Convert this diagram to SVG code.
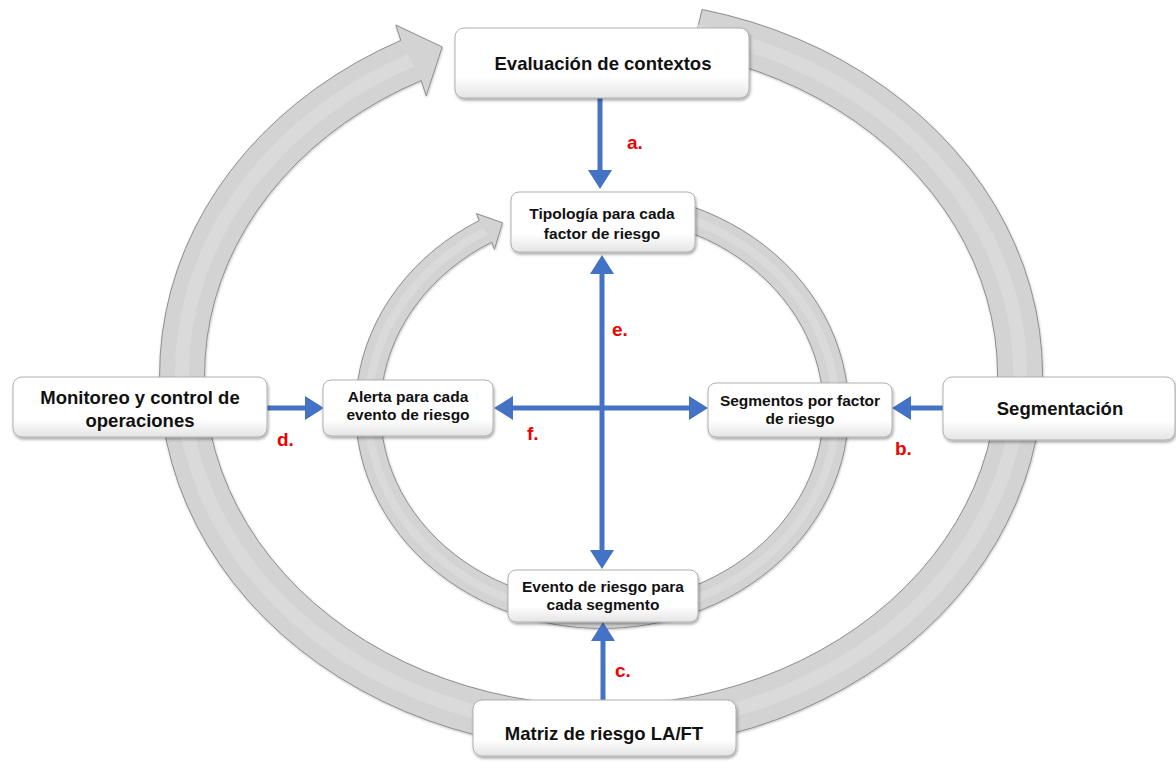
<svg xmlns="http://www.w3.org/2000/svg" width="1176" height="763" viewBox="0 0 1176 763">
<defs>
<linearGradient id="boxg" x1="0" y1="0" x2="0" y2="1">
<stop offset="0" stop-color="#ffffff"/>
<stop offset="0.7" stop-color="#ffffff"/>
<stop offset="1" stop-color="#e4e4e4"/>
</linearGradient>
<filter id="sh" x="-10%" y="-20%" width="120%" height="150%">
<feDropShadow dx="1" dy="2" stdDeviation="1.6" flood-color="#000" flood-opacity="0.35"/>
</filter>
<filter id="rsh" x="-5%" y="-5%" width="110%" height="110%">
<feDropShadow dx="0.5" dy="1" stdDeviation="1" flood-color="#000" flood-opacity="0.25"/>
</filter>
<marker id="ah" markerUnits="userSpaceOnUse" markerWidth="19" markerHeight="24" refX="0" refY="12" orient="auto-start-reverse" viewBox="0 0 19 24">
<path d="M0,0 L19,12 L0,24 Z" fill="#4472C4"/>
</marker>
<style>
.ring{fill:#d3d3d3;stroke:#8e8e8e;stroke-width:1;filter:url(#rsh)}
.hl{fill:none;stroke:#dadada;stroke-width:14}
.hli{fill:none;stroke:#dadada;stroke-width:8}
.box{fill:url(#boxg);stroke:#b0b0b0;stroke-width:1;filter:url(#sh)}
.big{font-family:"Liberation Sans",Arial,sans-serif;font-weight:bold;font-size:18.5px;fill:#111;text-anchor:middle}
.sm{font-family:"Liberation Sans",Arial,sans-serif;font-weight:bold;font-size:15.5px;fill:#111;text-anchor:middle}
.lab{font-family:"Liberation Sans",Arial,sans-serif;font-weight:bold;font-size:19px;fill:#f00000}
.con{stroke:#4472C4;stroke-width:5;fill:none}
</style>
</defs>
<rect width="1176" height="763" fill="#ffffff"/>
<g id="outer-cycle">
<path class="ring" d="M702.1,9.5 A441.5,375.5 0 1 1 400.8,40.4 L395.8,25.0 L442.2,47.0 L426.2,95.8 L421.2,80.5 A396.5,330.5 0 1 0 691.8,53.3 Z"/>
<path class="hl" d="M697,31.4 A419,353 0 1 1 411,60.4"/>
</g>
<g id="inner-cycle">
<path class="ring" d="M665.8,198.9 A246.5,218.5 0 1 1 479.3,220.5 L476.5,213.6 L502.5,222.8 L494.5,249.3 L491.7,242.2 A221.5,193.5 0 1 0 659.3,223.1 Z"/>
<path class="hli" d="M662.6,211 A234,206 0 1 1 485.5,231.4"/>
</g>
<g id="connectors">
<line class="con" x1="600" y1="98" x2="600" y2="170" marker-end="url(#ah)"/>
<line class="con" x1="602" y1="274" x2="602" y2="550" marker-start="url(#ah)" marker-end="url(#ah)"/>
<line class="con" x1="513" y1="408" x2="689" y2="408" marker-start="url(#ah)" marker-end="url(#ah)"/>
<line class="con" x1="267" y1="408" x2="305" y2="408" marker-end="url(#ah)"/>
<line class="con" x1="943" y1="408" x2="911" y2="408" marker-end="url(#ah)"/>
<line class="con" x1="603" y1="700" x2="603" y2="641" marker-end="url(#ah)"/>
</g>
<g id="n-evaluacion">
<rect class="box" x="455" y="28" width="294" height="70" rx="9"/>
<text class="big" x="603" y="70">Evaluación de contextos</text>
</g>
<g id="n-tipologia">
<rect class="box" x="511" y="192" width="184" height="60" rx="8"/>
<text class="sm" x="602" y="219">Tipología para cada</text>
<text class="sm" x="602" y="239">factor de riesgo</text>
</g>
<g id="n-monitoreo">
<rect class="box" x="13" y="377" width="254" height="60" rx="9"/>
<text class="big" x="140" y="404">Monitoreo y control de</text>
<text class="big" x="140" y="427">operaciones</text>
</g>
<g id="n-alerta">
<rect class="box" x="323" y="380" width="170" height="56" rx="8"/>
<text class="sm" x="408" y="402">Alerta para cada</text>
<text class="sm" x="408" y="420">evento de riesgo</text>
</g>
<g id="n-segmentos">
<rect class="box" x="708" y="383" width="184" height="54" rx="8"/>
<text class="sm" x="800" y="406">Segmentos por factor</text>
<text class="sm" x="800" y="424">de riesgo</text>
</g>
<g id="n-segmentacion">
<rect class="box" x="943" y="377" width="232" height="63" rx="9"/>
<text class="big" x="1060" y="415">Segmentación</text>
</g>
<g id="n-evento">
<rect class="box" x="508" y="570" width="190" height="52" rx="8"/>
<text class="sm" x="603" y="592">Evento de riesgo para</text>
<text class="sm" x="603" y="610">cada segmento</text>
</g>
<g id="n-matriz">
<rect class="box" x="473" y="700" width="263" height="56" rx="9"/>
<text class="big" x="604" y="740">Matriz de riesgo LA/FT</text>
</g>
<g id="labels">
<text class="lab" x="627" y="149">a.</text>
<text class="lab" x="612" y="336">e.</text>
<text class="lab" x="527" y="440">f.</text>
<text class="lab" x="277" y="446">d.</text>
<text class="lab" x="895" y="455">b.</text>
<text class="lab" x="615" y="677">c.</text>
</g>
</svg>
